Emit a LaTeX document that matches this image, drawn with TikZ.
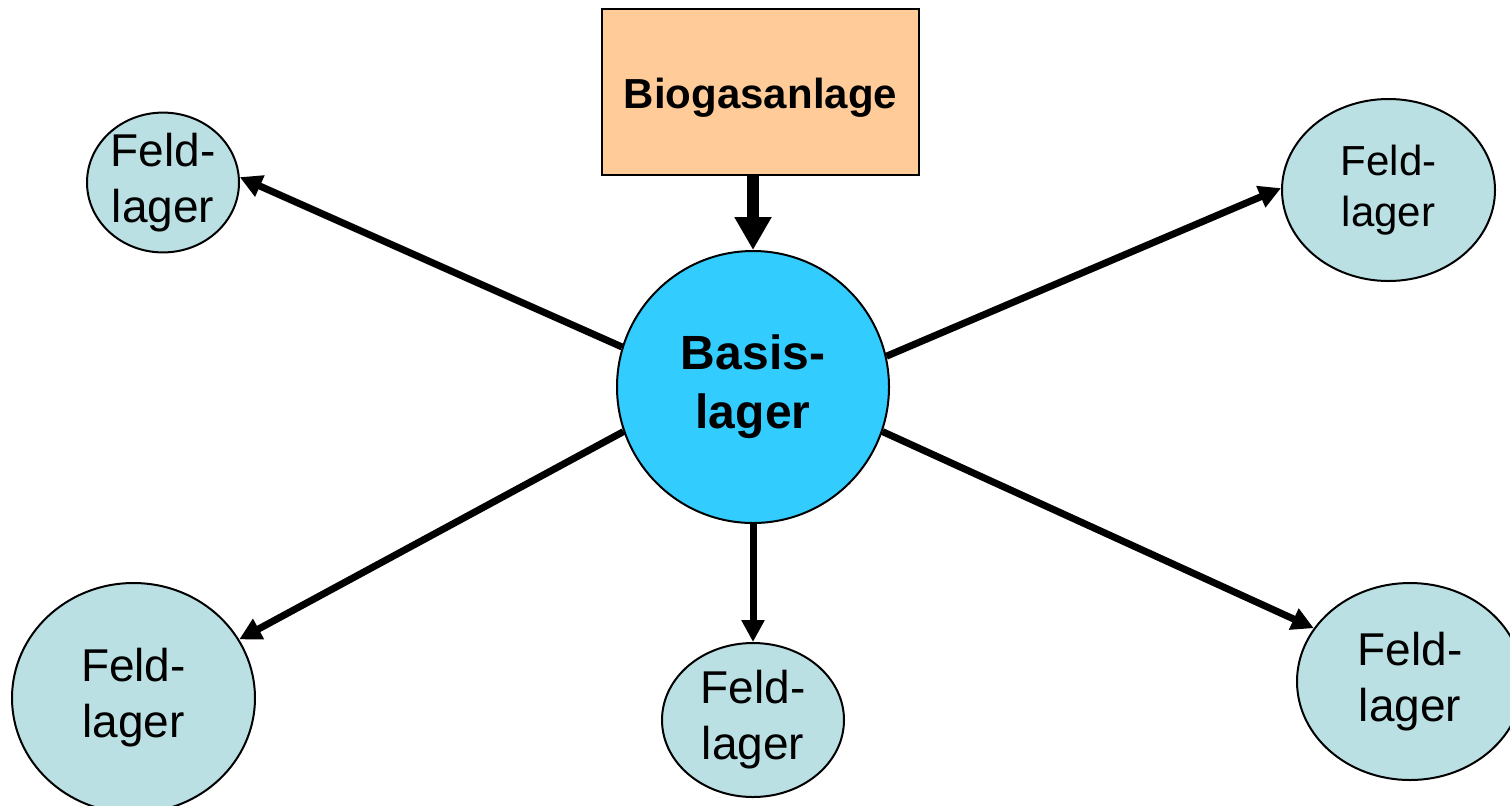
\documentclass[tikz,border=0pt]{standalone}
\usepackage{fontspec}
\setmainfont{Liberation Sans}
\usetikzlibrary{shapes.geometric,arrows.meta}
\definecolor{fieldfill}{RGB}{186,224,227}
\definecolor{basefill}{RGB}{51,204,255}
\definecolor{plantfill}{RGB}{255,204,153}
\tikzset{
  field/.style={ellipse, draw=black, line width=1pt, fill=fieldfill, inner sep=0pt,
    align=center, font=\fontsize{23}{28}\selectfont},
  base/.style={circle, draw=black, line width=1pt, fill=basefill, inner sep=0pt,
    minimum size=136pt, align=center, font=\fontsize{24}{29.5}\selectfont\bfseries},
  plant/.style={rectangle, draw=black, line width=1pt, fill=plantfill, inner sep=0pt,
    minimum width=158.5pt, minimum height=83pt, text height=16.9pt, text depth=0pt,
    font=\fontsize{21}{25}\selectfont\bfseries},
  link/.style={line width=3.5pt, -{Triangle[length=11pt,width=11pt]}},
  feed/.style={line width=6pt, -{Triangle[length=16.5pt,width=17.5pt]}}
}
\begin{document}
\begin{tikzpicture}[x=0.5pt,y=-0.5pt]
\useasboundingbox (0,0) rectangle (1510,805);
% central store and biogas plant
\node[base]  (B) at (753,387) {Basis-\\lager};
\node[plant] (P) at (760.5,92) {Biogasanlage};
% field stores
\node[field, minimum width=76pt,   minimum height=68.5pt] (F1) at (163,182.5) {Feld-\\lager};
\node[field, minimum width=106.5pt, minimum height=91pt, font=\fontsize{21}{25.5}\selectfont] (F2) at (1388.5,190) {Feld-\\lager};
\node[field, minimum width=121.5pt, minimum height=115pt] (F3) at (133.5,698) {Feld-\\lager};
\node[field, minimum width=91pt,   minimum height=77pt] (F4) at (753,720) {Feld-\\lager};
\node[field, minimum width=113pt,  minimum height=98.5pt] (F5) at (1410,681.5) {Feld-\\lager};
% supply arrows
\draw[feed] (B.north |- P.south) -- (B.north);
\draw[link] (B.163) -- (F1.4);
\draw[link] (B.13) -- (F2.179);
\draw[link] (B.199) -- (F3.29);
\draw[link] (B.south) -- (F4.north);
\draw[link] (B.-19) -- (F5.151);
\end{tikzpicture}
\end{document}
